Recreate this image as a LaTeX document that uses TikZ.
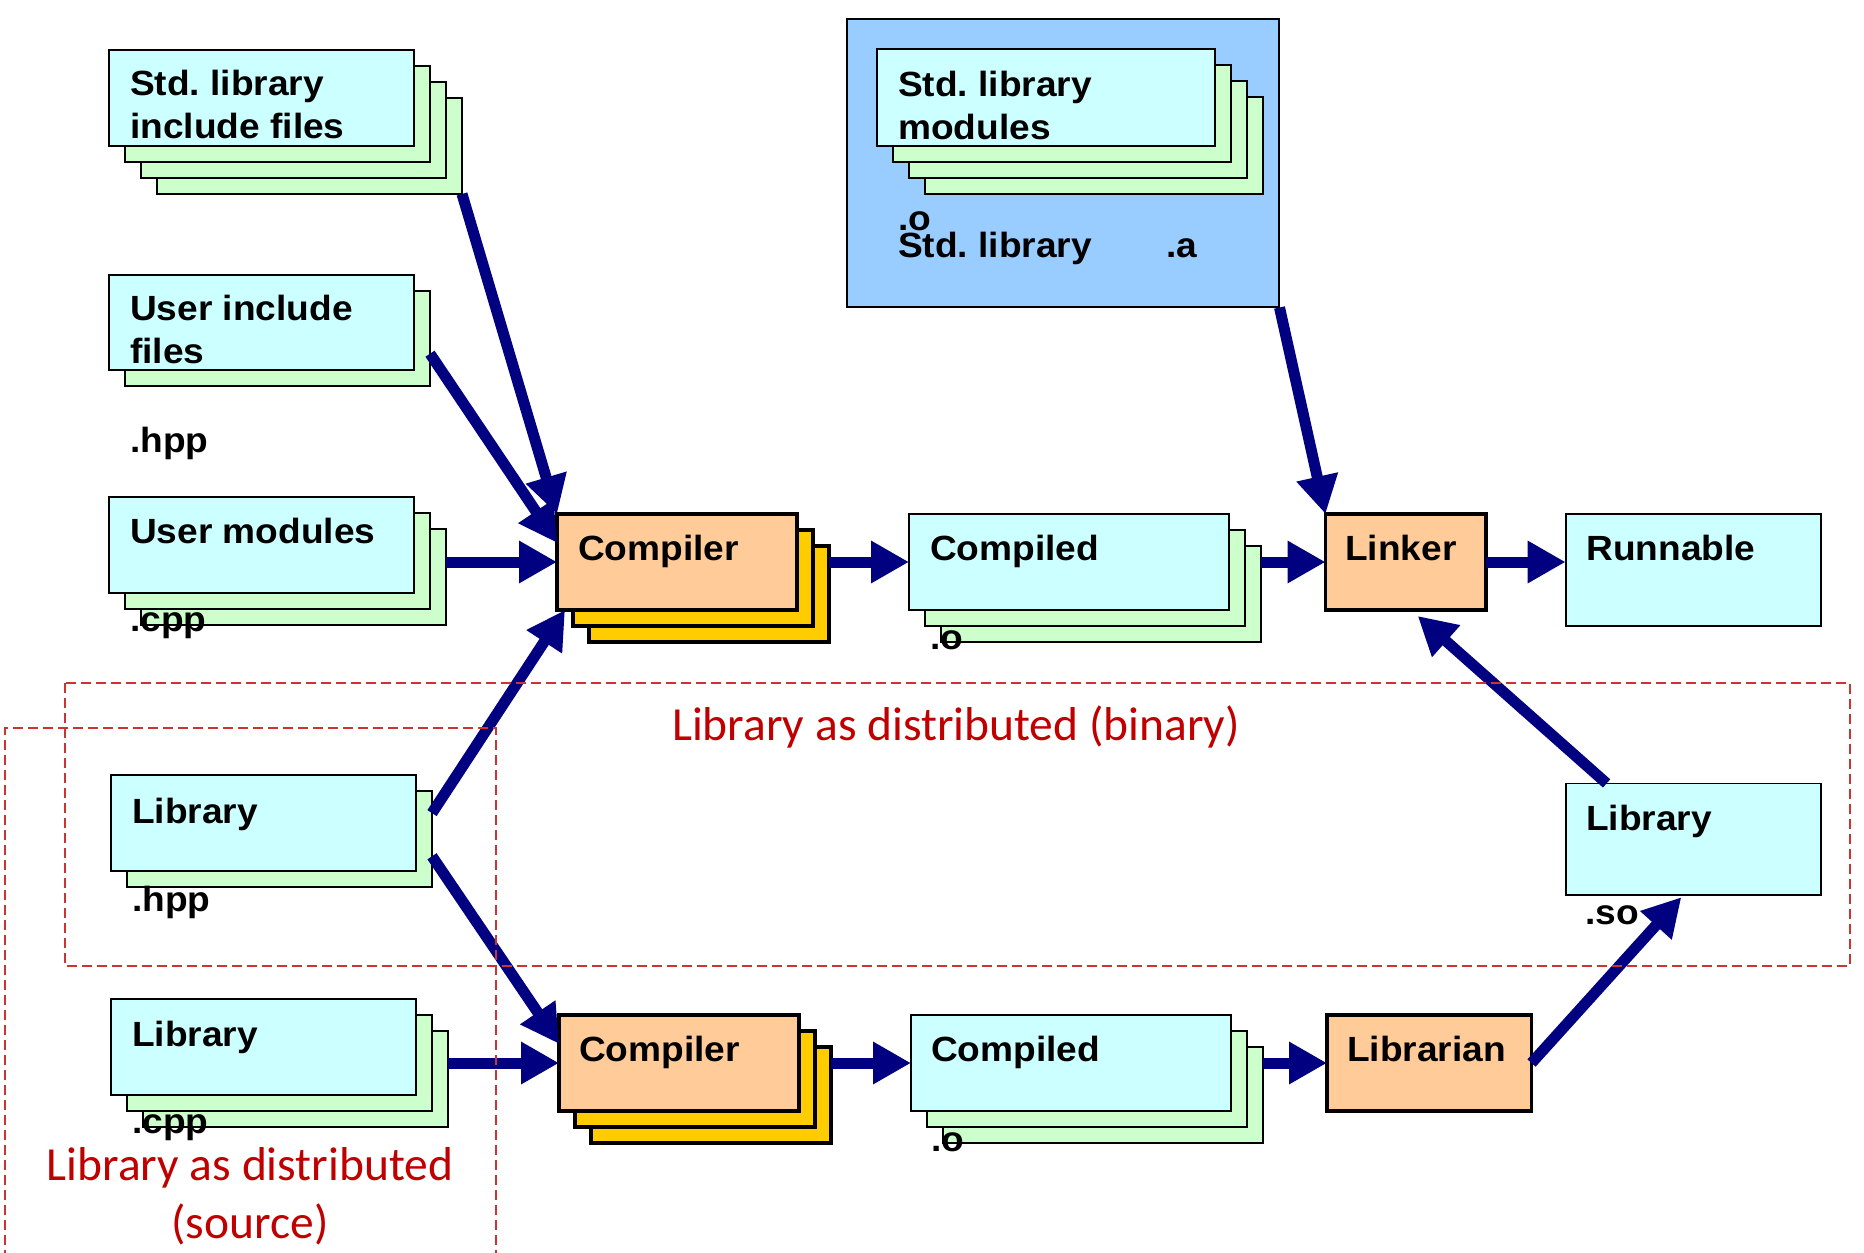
\documentclass[tikz,border=0pt]{standalone}
\usepackage{fontspec}
\usetikzlibrary{arrows.meta,calc}
\newfontfamily\boxfont[FakeStretch=1.06]{Liberation Sans}
\newfontfamily\notefont{Carlito}
\frenchspacing

\definecolor{cyanfill}{HTML}{CCFFFF}
\definecolor{greenfill}{HTML}{CCFFCC}
\definecolor{orangefill}{HTML}{FFCC99}
\definecolor{goldfill}{HTML}{FFCC00}
\definecolor{bluebg}{HTML}{99CCFF}
\definecolor{navy}{HTML}{000080}
\definecolor{dashred}{HTML}{CC3333}
\definecolor{notered}{HTML}{C00000}

\tikzset{
  filefront/.style={draw=black, line width=1.8pt, fill=cyanfill, anchor=north west, inner sep=0pt, outer sep=0pt},
  fileback/.style={filefront, fill=greenfill},
  toolfront/.style={draw=black, line width=3.5pt, fill=orangefill, anchor=north west, inner sep=0pt, outer sep=0pt},
  toolback/.style={toolfront, fill=goldfill},
  lbl/.style={anchor=base west, inner sep=0pt, font=\boxfont\bfseries\fontsize{35}{43.5}\selectfont},
  note/.style={anchor=base, inner sep=0pt, text=notered, font=\notefont\fontsize{47.5}{57}\selectfont},
  conn/.style={draw=navy, line width=11pt, -{Triangle[length=38pt,width=40pt]}},
  region/.style={draw=dashred, line width=2pt, dash pattern=on 10pt off 5pt},
}

% #1 name, #2 x, #3 y, #4 width, #5 height, #6 number of layers behind, #7 file/tool
\newcommand\layered[7]{%
  \foreach \k in {#6,...,1}{
    \node[#7back, minimum width=#4pt, minimum height=#5pt] (#1-b\k) at ({#2+16*\k},{#3+16*\k}) {};
  }
  \node[#7front, minimum width=#4pt, minimum height=#5pt] (#1) at (#2,#3) {};
}

\begin{document}
\begin{tikzpicture}[x=1pt,y=-1pt]
\useasboundingbox[fill=white] (0,0) rectangle (1864,1253);

% standard library archive
\node[draw=black, line width=2pt, fill=bluebg, anchor=north west, inner sep=0pt,
      minimum width=431.5pt, minimum height=288pt] (stdlib) at (846,17.5) {};

% file stacks and tools
\layered{sif}{109}{50}{305}{96}{3}{file}
\layered{uif}{109}{275}{305}{95}{1}{file}
\layered{um}{109}{497}{305}{96}{2}{file}
\layered{slm}{877}{49}{338}{97}{3}{file}
\layered{comp1}{557}{514}{240}{96}{2}{tool}
\layered{cmpd1}{909}{514}{320}{96}{2}{file}
\node[toolfront, minimum width=160.5pt, minimum height=96pt] (linker) at (1325.5,514) {};
\node[filefront, minimum width=255.5pt, minimum height=111.6pt] (runnable) at (1565.6,514) {};
\layered{lhpp}{111}{775}{305}{96}{1}{file}
\layered{lcpp}{111}{999}{305}{96}{2}{file}
\layered{comp2}{559}{1015}{240}{96}{2}{tool}
\layered{cmpd2}{911}{1015}{320}{96}{2}{file}
\node[toolfront, minimum width=204.5pt, minimum height=96pt] (librarian) at (1327,1015) {};
\node[filefront, minimum width=255.5pt, minimum height=111.8pt] (libso) at (1565.6,783.4) {};

% connectors
\draw[conn] (sif-b3.south east) -- (comp1.north west);
\draw[conn] ($(uif-b1.north east)!0.66!(uif-b1.south east)$) -- ($(comp1.north west)!0.3!(comp1.south west)$);
\draw[conn] (um-b2.east |- comp1.west) -- (comp1.west);
\draw[conn] ($(lhpp-b1.north east)!0.23!(lhpp-b1.south east)$) -- ($(comp1.south west)+(8,0)$);
\draw[conn] ($(lhpp-b1.north east)!0.68!(lhpp-b1.south east)$) -- ($(comp2.north west)!0.3!(comp2.south west)$);
\draw[conn] (lcpp-b2.east |- comp2.west) -- (comp2.west);
\draw[conn] (comp1-b2.east |- cmpd1.west) -- (cmpd1.west);
\draw[conn] (cmpd1-b2.east |- linker.west) -- (linker.west);
\draw[conn] (linker.east) -- (linker.east -| runnable.west);
\draw[conn] (stdlib.south east) -- (linker.north west);
\draw[conn] ($(libso.north west)+(41,0)$) -- ($(linker.south)+(12,6)$);
\draw[conn] (comp2-b2.east |- cmpd2.west) -- (cmpd2.west);
\draw[conn] (cmpd2-b2.east |- librarian.west) -- (librarian.west);
\draw[conn] (librarian.east) -- ($(libso.south)+(-12,2)$);

% distribution regions
\draw[region] (65,683) rectangle (1850,966);
\draw[region] (5,1260) -- (5,728) -- (496,728) -- (496,1260);

% labels
\node[lbl] (sif-t1) at (130,95) {Std. library};
\node[lbl] (sif-t2) at (130,138.5) {include files};
\node[lbl] (uif-t1) at (130,320) {User include};
\node[lbl] (uif-t2) at (130,363.5) {files};
\node[lbl] (uif-ext) at (130,452) {.hpp};
\node[lbl] (um-t1) at (130,543) {User modules};
\node[lbl] (um-ext) at (130,631) {.cpp};
\node[lbl] (slm-t1) at (898,96) {Std. library};
\node[lbl] (slm-t2) at (898,139.5) {modules};
\node[lbl] (slm-ext) at (898,230.5) {.o};
\node[lbl] (stdlib-t) at (898,257) {Std. library};
\node[lbl] (stdlib-ext) at (1166,257) {.a};
\node[lbl] (comp1-t) at (578,560) {Compiler};
\node[lbl] (cmpd1-t) at (930,560) {Compiled};
\node[lbl] (cmpd1-ext) at (930,649) {.o};
\node[lbl] (linker-t) at (1345,560) {Linker};
\node[lbl] (runnable-t) at (1586,560) {Runnable};
\node[lbl] (lhpp-t) at (132,823) {Library};
\node[lbl] (lhpp-ext) at (132,911) {.hpp};
\node[lbl] (lcpp-t) at (132,1046) {Library};
\node[lbl] (lcpp-ext) at (132,1133) {.cpp};
\node[lbl] (comp2-t) at (579,1061) {Compiler};
\node[lbl] (cmpd2-t) at (931,1061) {Compiled};
\node[lbl] (cmpd2-ext) at (931,1151) {.o};
\node[lbl] (librarian-t) at (1347,1061) {Librarian};
\node[lbl] (libso-t) at (1586,830) {Library};
\node[lbl] (libso-ext) at (1585,924) {.so};

\node[note] (binary-note) at (956,740) {Library as distributed (binary)};
\node[note] (source-note1) at (250,1180) {Library as distributed};
\node[note] (source-note2) at (250,1238) {(source)};
\end{tikzpicture}
\end{document}
